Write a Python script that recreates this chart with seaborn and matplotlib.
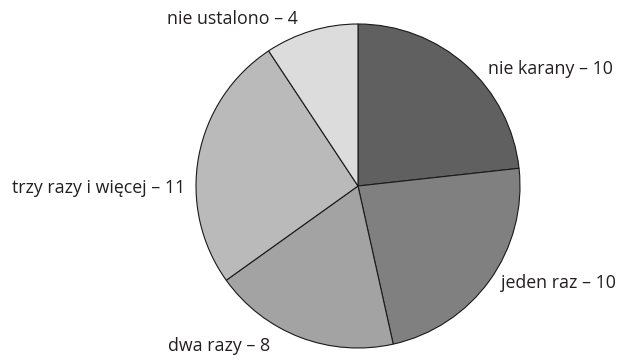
import matplotlib
matplotlib.use("Agg")
import matplotlib.pyplot as plt
import seaborn as sns

categories = ["nie karany", "jeden raz", "dwa razy", "trzy razy i więcej", "nie ustalono"]
counts = [10, 10, 8, 11, 4]
colors = ["#606060", "#808080", "#a3a3a3", "#bababa", "#dcdcdc"]

# label anchors in pie-radius units: (x, y, horizontal alignment)
label_pos = [(0.80, 0.72, "left"), (0.88, -0.60, "left"), (-1.17, -0.99, "left"),
             (-1.07, -0.01, "right"), (-1.18, 1.03, "left")]

sns.set_theme(style="white")
plt.rcParams["font.family"] = ["Open Sans", "DejaVu Sans"]

fig = plt.figure(figsize=(6.2, 3.6), dpi=100)
cx, cy, r = 358, 186, 162
ax = fig.add_axes([(cx - r) / 620, (360 - cy - r) / 360, 2 * r / 620, 2 * r / 360])

ax.pie(counts, colors=colors, startangle=90, counterclock=False, radius=1,
       wedgeprops=dict(edgecolor="#1a1a1a", linewidth=0.8))
ax.set_xlim(-1, 1)
ax.set_ylim(-1, 1)
ax.set_aspect("equal")
ax.axis("off")

for name, n, (x, y, ha) in zip(categories, counts, label_pos):
    ax.text(x, y, f"{name} – {n}", ha=ha, va="center", fontsize=12.8,
            color="#231f20", clip_on=False)

fig.savefig("out.png", dpi=100, facecolor="white")
